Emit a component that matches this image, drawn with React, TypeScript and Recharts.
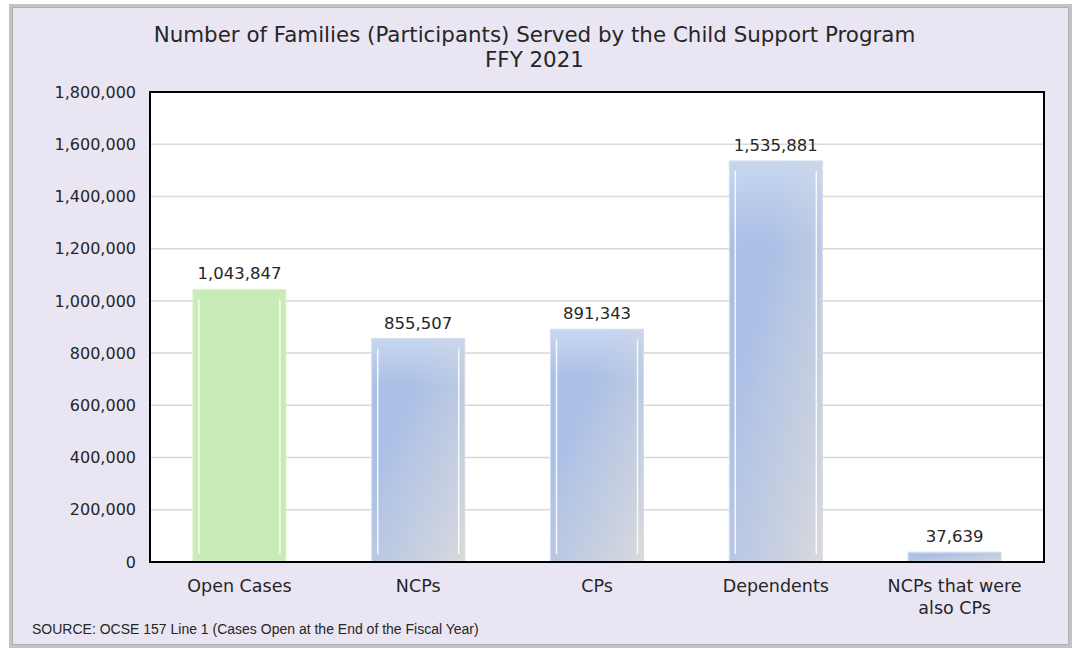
import React from 'react';
import { BarChart, Bar, XAxis, YAxis, CartesianGrid, Cell, LabelList } from 'recharts';

const categories = ['Open Cases', 'NCPs', 'CPs', 'Dependents', 'NCPs that were also CPs'];
const participants = [1043847, 855507, 891343, 1535881, 37639];
const yTicks = [0, 200000, 400000, 600000, 800000, 1000000, 1200000, 1400000, 1600000, 1800000];

const chartData = categories.map((name, i) => ({ name, value: participants[i] }));

const FONT = '"DejaVu Sans", sans-serif';
const TEXT = '#262626';

const W = 1077;
const H = 649;
const M = { top: 92, right: 33, bottom: 27, left: 0 };
const Y_AXIS_W = 150;
const X_AXIS_H = 60;

const fmt = (v: number) => v.toLocaleString('en-US');

// splits long category names onto two lines like the original
function splitLabel(label: string): string[] {
  if (label.length <= 14) return [label];
  const words = label.split(' ');
  const lines: string[] = [];
  let cur = '';
  words.forEach(w => {
    const next = cur ? cur + ' ' + w : w;
    if (next.length > 14 && cur) {
      lines.push(cur);
      cur = w;
    } else {
      cur = next;
    }
  });
  if (cur) lines.push(cur);
  return lines;
}

function CategoryTick(props: any) {
  const { x, y, payload } = props;
  const lines = splitLabel(String(payload.value));
  return (
    <text x={x} y={y} textAnchor="middle" fill={TEXT} fontSize={17.5} fontFamily={FONT}>
      {lines.map((l, i) => (
        <tspan key={i} x={x} dy={i === 0 ? 22 : 22}>{l}</tspan>
      ))}
    </text>
  );
}

function GlassBar(props: any) {
  const { x, y, width, height, index } = props;
  if (!height || height <= 0) return null;
  const green = index === 0;
  const inset = 6;
  const showLines = height > 30;
  return (
    <g>
      <rect
        x={x}
        y={y}
        width={width}
        height={height}
        fill={green ? '#C9EBB5' : 'url(#blueVert)'}
        stroke={green ? '#DCEFD2' : '#D3DDEE'}
        strokeWidth={1}
      />
      {!green && <rect x={x} y={y} width={width} height={height} fill="url(#greyDiag)" />}
      {showLines && (
        <>
          <line x1={x + inset} x2={x + inset} y1={y + 10} y2={y + height - 8} stroke="#FFFFFF" strokeOpacity={0.85} strokeWidth={1.5} />
          <line x1={x + width - inset} x2={x + width - inset} y1={y + 10} y2={y + height - 8} stroke="#FFFFFF" strokeOpacity={0.85} strokeWidth={1.5} />
        </>
      )}
    </g>
  );
}

export default function App() {
  const plotLeft = M.left + Y_AXIS_W;
  const plotTop = M.top;
  const plotW = W - M.right - plotLeft;
  const plotH = H - M.bottom - X_AXIS_H - plotTop;
  return (
    <div style={{ position: 'absolute', left: 0, top: 0, width: W, height: H, background: '#FFFFFF' }}>
      <div
        style={{
          position: 'absolute',
          left: 9,
          top: 4,
          width: 1063,
          height: 644,
          boxSizing: 'border-box',
          border: '3px solid #C3C3C3',
          boxShadow: 'inset 0 0 0 1px #B0B0B0',
          background: '#EAE5F2',
        }}
      />
      <div
        style={{
          position: 'absolute',
          left: 0,
          top: 22,
          width: 1069,
          textAlign: 'center',
          fontFamily: FONT,
          fontSize: 21.4,
          lineHeight: '25px',
          color: TEXT,
        }}
      >
        <div>Number of Families (Participants) Served by the Child Support Program</div>
        <div>FFY 2021</div>
      </div>
      <div style={{ position: 'absolute', left: 0, top: 0 }}>
        <BarChart width={W} height={H} data={chartData} margin={M} barCategoryGap="24%">
          <defs>
            <linearGradient id="blueVert" x1="0" y1="0" x2="0" y2="1">
              <stop offset="0%" stopColor="#C8D6EF" />
              <stop offset="22%" stopColor="#A9BFE6" />
              <stop offset="100%" stopColor="#B0C2E6" />
            </linearGradient>
            <linearGradient id="greyDiag" x1="0.3" y1="0.35" x2="1" y2="1">
              <stop offset="0%" stopColor="#DADADA" stopOpacity={0} />
              <stop offset="70%" stopColor="#D6D8DD" stopOpacity={0.7} />
              <stop offset="100%" stopColor="#DADADA" stopOpacity={1} />
            </linearGradient>
          </defs>
          <CartesianGrid vertical={false} stroke="#D9D9D9" strokeWidth={1.5} fill="#FFFFFF" />
          <XAxis
            dataKey="name"
            axisLine={{ stroke: '#000000', strokeWidth: 2 }}
            tickLine={false}
            height={X_AXIS_H}
            interval={0}
            tick={<CategoryTick />}
          />
          <YAxis
            domain={[0, 1800000]}
            ticks={yTicks}
            width={Y_AXIS_W}
            tickSize={0}
            tickMargin={14}
            axisLine={{ stroke: '#000000', strokeWidth: 2 }}
            tickFormatter={fmt}
            tick={{ fill: TEXT, fontSize: 16, fontFamily: FONT }}
          />
          <Bar dataKey="value" isAnimationActive={false} shape={<GlassBar />}>
            {chartData.map((d, i) => (
              <Cell key={d.name} fill={i === 0 ? '#C9EBB5' : '#AFC2E6'} />
            ))}
            <LabelList
              dataKey="value"
              position="top"
              offset={10}
              formatter={(v: any) => fmt(Number(v))}
              style={{ fill: TEXT, fontSize: 16.5, fontFamily: FONT }}
            />
          </Bar>
        </BarChart>
      </div>
      {/* black frame around the plot area */}
      <div
        style={{
          position: 'absolute',
          left: plotLeft - 1,
          top: plotTop - 1,
          width: plotW + 2,
          height: plotH + 2,
          boxSizing: 'border-box',
          border: '2px solid #000000',
          pointerEvents: 'none',
        }}
      />
      <div
        style={{
          position: 'absolute',
          left: 32,
          top: 621,
          fontFamily: '"Liberation Sans", Arial, sans-serif',
          fontSize: 14,
          color: TEXT,
          whiteSpace: 'nowrap',
        }}
      >
        SOURCE: OCSE 157 Line 1 (Cases Open at the End of the Fiscal Year)
      </div>
    </div>
  );
}
